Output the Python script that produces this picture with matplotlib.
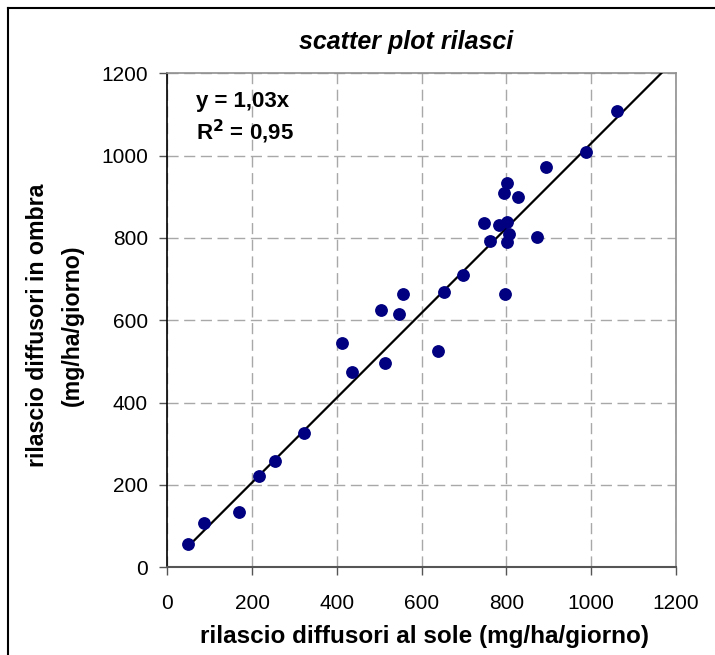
import matplotlib
matplotlib.use("Agg")
import matplotlib.pyplot as plt
from matplotlib.lines import Line2D
import numpy as np

# release rates: sun-exposed vs shaded diffusers (mg/ha/giorno)
sole = [48, 87, 170, 217, 253, 322, 411, 435, 504, 547, 514, 639,
        555, 653, 698, 797, 761, 802, 806, 748, 782, 802, 873,
        795, 802, 828, 894, 988, 1060]
ombra = [56, 108, 134, 222, 259, 326, 544, 474, 626, 615, 496, 525,
         664, 669, 709, 664, 792, 789, 810, 837, 832, 838, 803,
         910, 934, 899, 972, 1009, 1108]

slope = 1.03
r2 = 0.95
ticks = [0, 200, 400, 600, 800, 1000, 1200]

W, H = 715, 655
fig = plt.figure(figsize=(W / 100, H / 100), dpi=100)
fig.patch.set_facecolor("white")

FONT = ["Liberation Sans", "DejaVu Sans"]

ax = fig.add_axes([167.3 / W, 1 - 567.3 / H, (676 - 167.3) / W, (567.3 - 73.3) / H])
ax.set_xlim(0, 1200)
ax.set_ylim(0, 1200)
ax.set_xticks(ticks)
ax.set_yticks(ticks)
ax.set_xticklabels([str(t) for t in ticks], fontsize=15, family=FONT)
ax.set_yticklabels([str(t) for t in ticks], fontsize=15, family=FONT)
ax.tick_params(axis="x", direction="out", length=6, width=1, color="#555555", pad=13)
ax.tick_params(axis="y", direction="out", length=6, width=1, color="#555555", pad=8)

ax.grid(True, color="#a8a8a8", linestyle=(0, (8, 4)), linewidth=1)
ax.set_axisbelow(True)

for side in ("top", "right"):
    ax.spines[side].set_color("#909090")
    ax.spines[side].set_linewidth(1.2)
ax.spines["bottom"].set_color("#555555")
ax.spines["bottom"].set_linewidth(1.5)
ax.spines["left"].set_color("black")
ax.spines["left"].set_linewidth(1.2)

# linear trend through the origin
xt = np.array([min(sole), 1200])
ax.plot(xt, slope * xt, color="black", linewidth=1.6, zorder=3)

ax.plot(sole, ombra, linestyle="none", marker="o", markersize=8.2,
        markerfacecolor="#000080", markeredgecolor="#000080", zorder=4)

def fx(px):
    return px / W

def fy(py):
    return 1 - py / H

ax.text(fx(196), fy(101), "y = 1,03x", transform=fig.transFigure,
        fontsize=16, fontweight="bold", family=FONT, va="center", ha="left")
ax.text(fx(196), fy(132), "R$^\\mathbf{2}$ = 0,95", transform=fig.transFigure,
        fontsize=16, fontweight="bold", family=FONT, va="center", ha="left")

fig.text(fx(406), fy(42), "scatter plot rilasci", fontsize=18,
         fontweight="bold", fontstyle="italic", family=FONT, ha="center", va="center")
fig.text(fx(424), fy(637), "rilascio diffusori al sole (mg/ha/giorno)", fontsize=17.5,
         fontweight="bold", family=FONT, ha="center", va="center")
fig.text(fx(38), fy(325), "rilascio diffusori in ombra", fontsize=16.7,
         fontweight="bold", family=FONT, ha="center", va="center", rotation=90)
fig.text(fx(72), fy(325), "(mg/ha/giorno)", fontsize=16.7,
         fontweight="bold", family=FONT, ha="center", va="center", rotation=90)

# chart area frame (left and top edges)
fig.add_artist(Line2D([fx(7.5), fx(7.5)], [0, fy(8)], transform=fig.transFigure,
                      color="black", linewidth=1.5))
fig.add_artist(Line2D([fx(7.5), 1], [fy(8), fy(8)], transform=fig.transFigure,
                      color="black", linewidth=1.5))

fig.savefig("out.png", dpi=100)
